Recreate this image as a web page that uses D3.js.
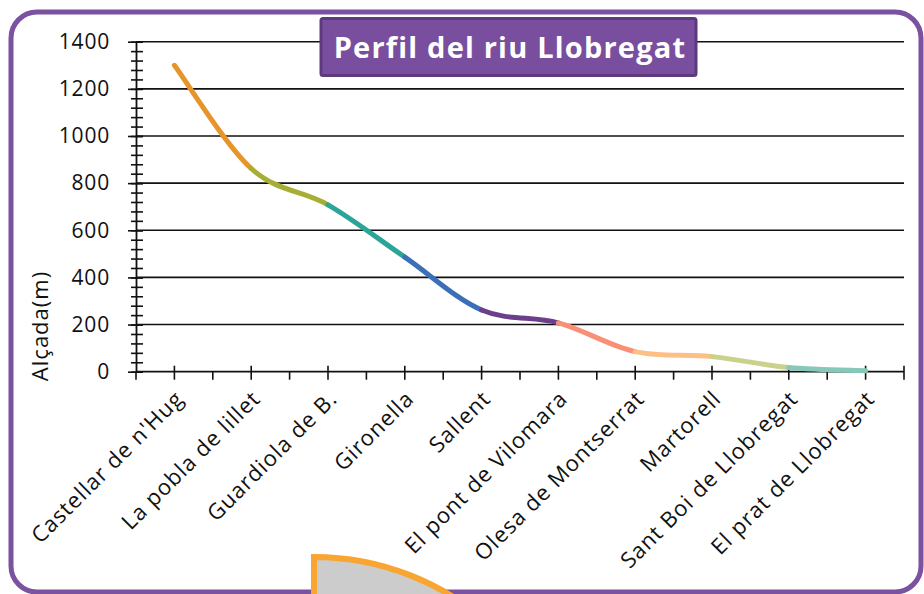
<!DOCTYPE html>
<html>
<head>
<meta charset="utf-8">
<script src="https://cdn.jsdelivr.net/npm/d3@7"></script>
<style>
  body { margin: 0; background: #fff; }
  svg { display: block; font-family: "Open Sans", Lato, sans-serif; }
</style>
</head>
<body>
<div id="chart"></div>
<script>
const w = 924;
const h = 594;

// data
const places = ["Castellar de n'Hug", "La pobla de lillet", "Guardiola de B.", "Gironella", "Sallent",
  "El pont de Vilomara", "Olesa de Montserrat", "Martorell", "Sant Boi de Llobregat", "El prat de Llobregat"];
const heights = [1300, 862, 708, 486, 262, 207, 85, 64, 18, 4];
const segColors = ["#e6952a", "#a6ae34", "#2ba597", "#3b70b8", "#6b3f8c", "#f98f75", "#fdbf84", "#cad18a", "#86c9bb"];
const yTicks = [0, 200, 400, 600, 800, 1000, 1200, 1400];
const title = "Perfil del riu Llobregat";
const yTitle = "Alçada(m)";

const plotL = 136, plotR = 904, plotT = 41.7, plotB = 371.7;

let svg = d3.select("#chart").append("svg")
  .attr("width", w)
  .attr("height", h);

// frame
svg.append("rect")
  .attr("x", 11).attr("y", 12)
  .attr("width", 910).attr("height", 580)
  .attr("rx", 26).attr("ry", 26)
  .attr("fill", "#fff")
  .attr("stroke", "#7b52a0")
  .attr("stroke-width", 5);

let xBand = d3.scaleBand().domain(places).range([plotL, plotR]);
let xMid = d => xBand(d) + xBand.bandwidth() / 2;

let yScale = d3.scaleLinear().domain([0, 1400]).range([plotB, plotT]);

// gridlines
svg.append("g")
  .selectAll("line")
  .data(yTicks.slice(1))
  .join("line")
  .attr("x1", plotL).attr("x2", plotR)
  .attr("y1", d => yScale(d)).attr("y2", d => yScale(d))
  .attr("stroke", "#111")
  .attr("stroke-width", 1.6);

// y axis: minor + major ticks crossing the axis
let minor = d3.range(0, 1401, 40);
let yMinor = svg.append("g")
  .attr("transform", "translate(" + plotL + ",0)")
  .call(d3.axisLeft(yScale).tickValues(minor).tickFormat("").tickSizeOuter(0));
yMinor.select(".domain").remove();
yMinor.selectAll(".tick line").attr("x1", -5).attr("x2", 7).attr("stroke", "#111").attr("stroke-width", 1.6);

let yAxis = svg.append("g")
  .attr("transform", "translate(" + plotL + ",0)")
  .call(d3.axisLeft(yScale).tickValues(yTicks).tickFormat(d3.format("d")).tickSizeOuter(0).tickPadding(20));
yAxis.select(".domain").attr("stroke", "#111").attr("stroke-width", 1.8);
yAxis.selectAll(".tick line").attr("x1", -8).attr("x2", 7).attr("stroke", "#111").attr("stroke-width", 1.6);
yAxis.selectAll(".tick text")
  .attr("font-family", "'Open Sans', sans-serif")
  .attr("font-size", 21)
  .attr("letter-spacing", 0.8)
  .attr("fill", "#111");

// x axis
let xAxisG = svg.append("g").attr("transform", "translate(0," + plotB + ")");
xAxisG.append("line")
  .attr("x1", plotL).attr("x2", plotR)
  .attr("stroke", "#111").attr("stroke-width", 1.8);
// boundary ticks (below only)
xAxisG.selectAll(".bt")
  .data(places.concat(["end"]))
  .join("line")
  .attr("class", "bt")
  .attr("x1", (d, i) => plotL + i * xBand.step())
  .attr("x2", (d, i) => plotL + i * xBand.step())
  .attr("y1", (d, i) => i === places.length ? -6 : 0)
  .attr("y2", 8)
  .attr("stroke", "#111").attr("stroke-width", 1.6);
// center ticks (crossing)
xAxisG.selectAll(".ct")
  .data(places)
  .join("line")
  .attr("class", "ct")
  .attr("x1", d => xMid(d)).attr("x2", d => xMid(d))
  .attr("y1", -6).attr("y2", 8)
  .attr("stroke", "#111").attr("stroke-width", 1.6);

// rotated labels
svg.append("g")
  .selectAll("text")
  .data(places)
  .join("text")
  .attr("transform", d => "translate(" + (xMid(d) + 5) + "," + (plotB + 23) + ") rotate(-45)")
  .attr("text-anchor", "end")
  .attr("dy", "0.35em")
  .attr("font-size", 22)
  .attr("letter-spacing", 1)
  .attr("fill", "#111")
  .text(d => d);

// y title
svg.append("text")
  .attr("transform", "translate(48," + 326 + ") rotate(-90)")
  .attr("text-anchor", "middle")
  .attr("font-size", 22)
  .attr("letter-spacing", 1)
  .attr("fill", "#111")
  .text(yTitle);

// smoothed profile, one colour per stretch
let pts = places.map((p, i) => [xMid(p), yScale(heights[i])]);
let lineG = svg.append("g");
for (let i = 0; i < pts.length - 1; i++) {
  let p0 = pts[Math.max(i - 1, 0)];
  let p1 = pts[i];
  let p2 = pts[i + 1];
  let p3 = pts[Math.min(i + 2, pts.length - 1)];
  let path = d3.path();
  path.moveTo(p1[0], p1[1]);
  path.bezierCurveTo(
    p1[0] + (p2[0] - p0[0]) / 6, p1[1] + (p2[1] - p0[1]) / 6,
    p2[0] - (p3[0] - p1[0]) / 6, p2[1] - (p3[1] - p1[1]) / 6,
    p2[0], p2[1]);
  lineG.append("path")
    .attr("d", path.toString())
    .attr("fill", "none")
    .attr("stroke", segColors[i])
    .attr("stroke-width", 5)
    .attr("stroke-linecap", "round");
}

// title box
let tb = svg.append("g");
tb.append("rect")
  .attr("x", 321).attr("y", 18.5)
  .attr("width", 375).attr("height", 57)
  .attr("rx", 2)
  .attr("fill", "#7a4e9e")
  .attr("stroke", "#5c3a7d")
  .attr("stroke-width", 3);
tb.append("text")
  .attr("x", 510).attr("y", 58)
  .attr("text-anchor", "middle")
  .attr("font-size", 29)
  .attr("font-weight", "bold")
  .attr("letter-spacing", 1.2)
  .attr("fill", "#fff")
  .text(title);

// decorative wedge at the bottom
svg.append("path")
  .attr("transform", "translate(314,819)")
  .attr("d", d3.arc()({ innerRadius: 0, outerRadius: 262, startAngle: 0, endAngle: Math.PI / 2 }))
  .attr("fill", "#cccccc")
  .attr("stroke", "#f9a531")
  .attr("stroke-width", 6);
</script>
</body>
</html>
